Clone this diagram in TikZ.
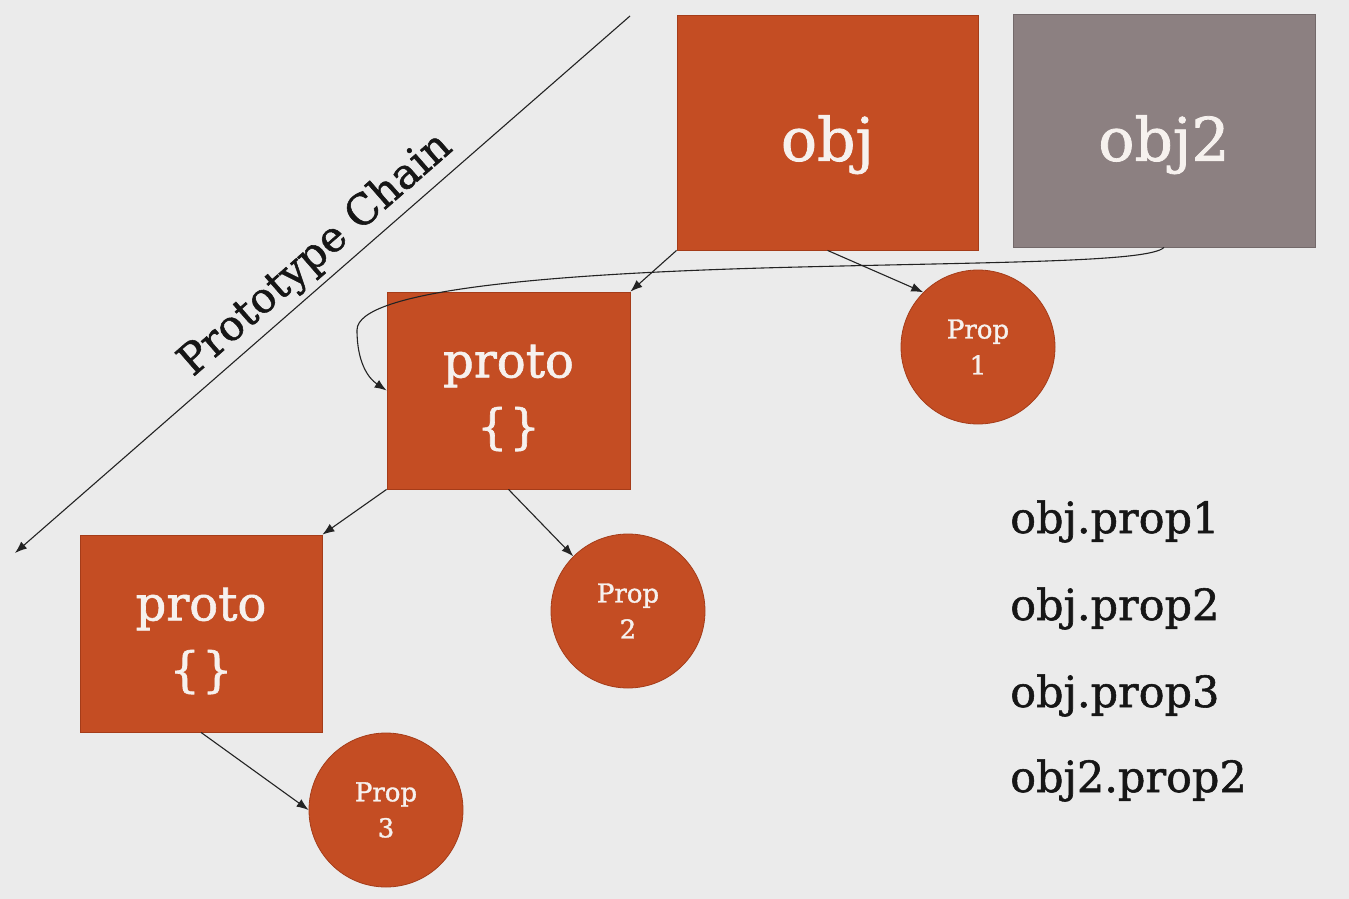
\documentclass[tikz,border=0pt]{standalone}
\usepackage{fontspec}
\setmainfont{DejaVu Serif}[FakeBold=1.3]
\usetikzlibrary{arrows.meta}
\definecolor{bg}{RGB}{235,235,235}
\definecolor{rust}{RGB}{196,77,35}
\definecolor{rustedge}{RGB}{165,60,25}
\definecolor{stone}{RGB}{140,128,129}
\definecolor{stoneedge}{RGB}{115,105,106}
\definecolor{paper}{RGB}{246,241,238}
\definecolor{ink}{RGB}{22,22,22}
\definecolor{wire}{RGB}{35,35,35}
\newcommand{\bracepair}{\{\kern2pt\}}
\begin{document}
\begin{tikzpicture}[x=1pt,y=-1pt,
  box/.style={rectangle, draw=rustedge, line width=0.8pt, fill=rust, text=paper,
    inner sep=0pt, align=center},
  greybox/.style={box, draw=stoneedge, fill=stone},
  propnode/.style={circle, draw=rustedge, line width=0.8pt, fill=rust, text=paper,
    inner sep=0pt, minimum size=154pt, align=center,
    font=\fontsize{26}{36}\selectfont},
  bigtext/.style={font=\fontsize{60}{72}\selectfont, text depth=6pt},
  protofont/.style={font=\fontsize{48}{66}\selectfont},
  listtext/.style={anchor=base west, inner sep=0pt, text=ink,
    font=\fontsize{43}{50}\selectfont},
  arr/.style={draw=wire, line width=1.1pt, -{Latex[length=12pt,width=9pt]}}]

% canvas
\fill[bg] (0,0) rectangle (1349,899);
\useasboundingbox (0,0) rectangle (1349,899);

% objects
\node[box, bigtext, minimum width=301pt, minimum height=235pt] (obj) at (827.5,132.5) {};
\node[greybox, bigtext, minimum width=302pt, minimum height=233pt] (obj2) at (1164,130.5) {};
\node[text=paper, bigtext, inner sep=0pt] (objlabel) at (827.5,141) {obj};
\node[text=paper, bigtext, inner sep=0pt] (obj2label) at (1164,141) {obj2};

% prototypes
\node[box, minimum width=243pt, minimum height=197pt] (proto1) at (508.5,390.5) {};
\node[box, minimum width=242pt, minimum height=197pt] (proto2) at (201,633.5) {};
\node[text=paper, protofont, align=center, inner sep=0pt] (proto1label) at (508.5,398) {proto\\\bracepair};
\node[text=paper, protofont, align=center, inner sep=0pt] (proto2label) at (201,641) {proto\\\bracepair};

% properties
\node[propnode] (prop1) at (978,347) {Prop\\1};
\node[propnode] (prop2) at (628,611) {Prop\\2};
\node[propnode] (prop3) at (386,810) {Prop\\3};

% chain direction
\coordinate (chaintop) at (630,16);
\coordinate (chainend) at (15,553);
\draw[arr] (chaintop) -- (chainend);
\node[rotate=41.1, text=ink, font=\fontsize{42}{50}\selectfont] (chainlabel) at (316,255) {Prototype Chain};

% links
\draw[arr] (obj.south west) -- (proto1.north east);
\draw[arr] (obj.south) -- (prop1.135);
\draw[arr] (proto1.south west) -- (proto2.north east);
\draw[arr] (proto1.south) -- (prop2.135);
\draw[arr] (proto2.south) -- (prop3.west);
\draw[arr] (obj2.south) .. controls (1150,262) and (1000,262) .. (800,267)
  .. controls (550,273) and (357,290) .. (357,330)
  .. controls (357,362) and (368,378) .. (proto1.west);

% lookups
\node[listtext] (l1) at (1010,533) {obj.prop1};
\node[listtext] (l2) at (1010,620) {obj.prop2};
\node[listtext] (l3) at (1010,707) {obj.prop3};
\node[listtext] (l4) at (1010,792) {obj2.prop2};
\end{tikzpicture}
\end{document}
